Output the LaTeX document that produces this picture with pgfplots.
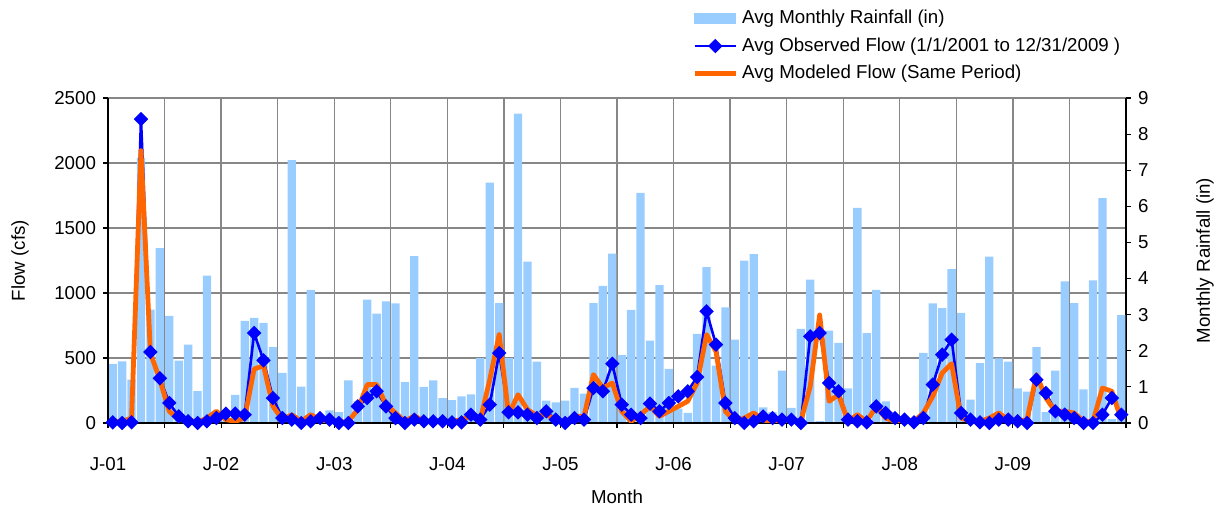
\documentclass[border=0pt]{standalone}
\usepackage{fontspec}
\setmainfont{Liberation Sans}
\usepackage{pgfplots}
\usepackage{pgfplotstable}
\pgfplotsset{compat=1.18}

\definecolor{rainblue}{RGB}{153,204,255}
\definecolor{obsblue}{RGB}{0,0,255}
\definecolor{modorange}{RGB}{255,102,0}
\definecolor{gridgray}{RGB}{135,135,135}
\newcommand\fs{\fontsize{9.35}{11}\selectfont}

% month index (0 = Jan 2001), rainfall (in), observed flow (cfs), modeled flow (cfs)
\pgfplotstableread{
m rain obs mod
0 1.64 5 13
1 1.71 0 13
2 1.20 5 38
3 7.34 2338 2095
4 3.14 546 538
5 4.84 344 333
6 2.97 154 90
7 1.73 51 26
8 2.17 13 26
9 0.88 0 5
10 4.08 13 38
11 0.05 38 90
12 0.05 72 26
13 0.78 72 13
14 2.83 64 38
15 2.91 692 415
16 2.77 482 441
17 2.10 192 128
18 1.39 38 26
19 7.28 26 64
20 1.01 0 13
21 3.69 13 64
22 0.05 38 26
23 0.35 26 13
24 0.30 0 5
25 1.18 0 13
26 0.61 128 103
27 3.42 192 295
28 3.03 244 295
29 3.37 128 141
30 3.31 38 77
31 1.13 0 13
32 4.62 26 56
33 1.00 13 13
34 1.18 13 13
35 0.69 13 13
36 0.63 5 13
37 0.74 5 26
38 0.79 64 51
39 1.80 26 26
40 6.66 141 333
41 3.32 538 680
42 1.80 82 64
43 8.57 82 218
44 4.47 64 103
45 1.70 38 56
46 0.62 90 64
47 0.57 26 26
48 0.62 0 13
49 0.97 38 51
50 0.81 26 51
51 3.32 269 372
52 3.80 244 269
53 4.69 456 308
54 1.88 141 90
55 3.13 64 13
56 6.37 38 64
57 2.28 149 128
58 3.82 90 51
59 1.50 154 90
60 0.40 205 128
61 0.28 244 167
62 2.47 354 308
63 4.32 859 680
64 1.59 603 551
65 3.20 154 90
66 2.31 38 13
67 4.50 0 38
68 4.68 13 77
69 0.43 51 26
70 0.30 38 0
71 1.45 26 5
72 0.42 26 26
73 2.61 0 13
74 3.97 667 282
75 0.05 692 831
76 2.56 308 167
77 2.22 244 218
78 0.96 26 13
79 5.96 13 64
80 2.49 5 13
81 3.69 128 128
82 0.60 77 38
83 0.10 38 13
84 0.10 26 13
85 0.10 5 13
86 1.94 38 77
87 3.31 295 205
88 3.18 526 385
89 4.26 641 456
90 3.05 77 38
91 0.65 26 13
92 1.66 5 13
93 4.61 0 38
94 1.79 26 77
95 1.70 26 26
96 0.96 13 13
97 0.87 0 26
98 2.10 333 372
99 0.30 231 192
100 1.45 90 90
101 3.92 64 90
102 3.32 38 77
103 0.93 0 13
104 3.95 0 13
105 6.23 64 269
106 0.11 192 244
107 2.99 64 26
}\flowdata

\pgfplotsset{
  base/.style={
    scale only axis, width=509pt, height=162.5pt,
    xmin=0, xmax=108, at={(0,0)}, anchor=south west,
    /pgf/number format/assume math mode=true,
    /pgf/number format/1000 sep={},
    tick label style={font=\fs}, label style={font=\fs},
    tick align=outside, major tick length=2.5pt,
    tick style={black, line width=0.6pt},
  },
}

\begin{document}
\begin{tikzpicture}[font=\fs]
% grid underneath everything
\begin{axis}[base,
    ymin=0, ymax=2500, ytick={0,500,...,2500}, xtick={0,6,...,108},
    xticklabels={}, yticklabels={}, major tick length=0pt,
    grid=major, major grid style={gridgray, line width=0.7pt},
    axis line style={draw=none}]
\end{axis}
% rainfall bars on the right axis
\begin{axis}[base,
    ymin=0, ymax=9, ytick={0,...,9},
    axis y line*=right, axis x line=none,
    y axis line style={black, line width=0.8pt},
    ylabel={Monthly Rainfall (in)},
    ylabel style={at={(axis description cs:1.0776,0.5)}, anchor=center}]
\addplot[ybar, bar width=0.88, fill=rainblue, draw=none]
    table[x expr=\thisrow{m}+0.5, y=rain]{\flowdata};
\end{axis}
% flows on the left axis
\begin{axis}[base, name=main,
    ymin=0, ymax=2500, ytick={0,500,...,2500},
    xtick={0,6,...,108},
    xticklabels={J-01,,J-02,,J-03,,J-04,,J-05,,J-06,,J-07,,J-08,,J-09,,},
    xticklabel style={yshift=-11pt},
    axis x line*=bottom, axis y line*=left,
    axis line style={black, line width=0.8pt},
    ylabel={Flow (cfs)}, xlabel={Month},
    ylabel style={at={(axis description cs:-0.0865,0.5)}, anchor=center},
    xlabel style={at={(axis description cs:0.5,-0.2277)}, anchor=center},
    legend image code/.code={\draw[mark repeat=2, mark phase=2, #1]
        plot coordinates {(0pt,0pt) (10.25pt,0pt) (20.5pt,0pt)};},
    legend style={draw=none, fill=none, font=\fs, inner sep=0pt,
        at={(axis description cs:0.5737,1.283)}, anchor=north west,
        row sep=1.4pt},
    legend cell align=left]
\addlegendimage{legend image code/.code={\fill[rainblue] (0pt,-2.5pt) rectangle (20.5pt,2.5pt);}}
\addlegendentry{Avg Monthly Rainfall (in)}
\addplot[obsblue, line width=1.3pt, mark=square*, mark size=1.9pt,
    mark options={rotate=45, solid}]
    table[x expr=\thisrow{m}+0.5, y=obs]{\flowdata};
\addlegendentry{Avg Observed Flow (1/1/2001 to 12/31/2009 )}
\addplot[modorange, line width=2.4pt, no markers, line join=round]
    table[x expr=\thisrow{m}+0.5, y=mod]{\flowdata};
\addlegendentry{Avg Modeled Flow (Same Period)}
\end{axis}
\pgfresetboundingbox
\path[use as bounding box] ([xshift=-54pt, yshift=-42.5pt]main.south west)
    rectangle ([xshift=47pt, yshift=49pt]main.north east);
\end{tikzpicture}
\end{document}
